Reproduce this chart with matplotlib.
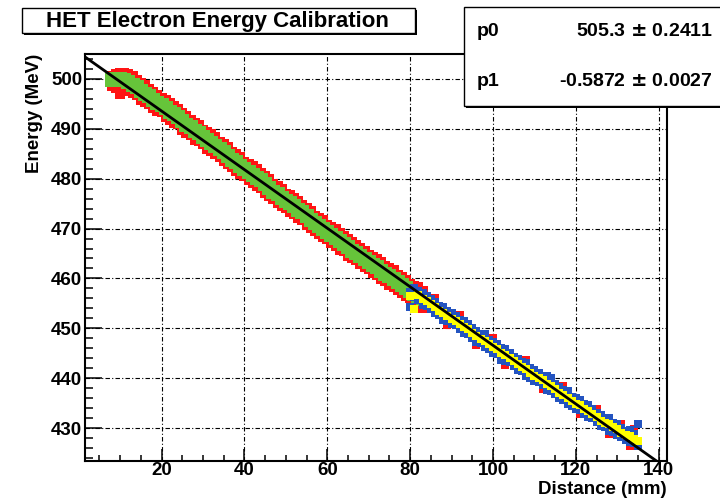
import matplotlib
matplotlib.use('Agg')
import numpy as np
import matplotlib.pyplot as plt
from matplotlib.patches import Rectangle

plt.rcParams['font.family'] = ['Liberation Sans', 'DejaVu Sans']
plt.rcParams['font.weight'] = 'bold'

# fit result
p0, p0_err = 505.3, 0.2411
p1, p1_err = -0.5872, 0.0027

# red points: upper / lower edge of the band, 8..83 mm
red_x = list(range(8, 84))
red_hi = [500.6, 501.0, 501.2, 501.2, 500.9, 500.5, 499.8, 499.1, 498.8, 498.0,
          497.4, 496.8, 496.2, 495.7, 495.1, 494.6, 493.9, 493.2, 492.6, 491.8,
          491.1, 490.8, 489.8, 489.3, 488.9, 488.3, 487.4, 487.0, 486.3, 485.3,
          484.9, 484.3, 483.3, 483.0, 482.5, 481.9, 481.2, 480.6, 479.9, 478.9,
          478.5, 477.9, 476.9, 476.7, 476.2, 475.5, 474.8, 474.2, 473.6, 472.6,
          472.2, 471.7, 470.7, 470.4, 469.9, 469.2, 468.5, 467.9, 467.4, 466.7,
          466.1, 465.5, 464.7, 464.3, 463.9, 463.2, 462.4, 462.0, 461.7, 460.7,
          460.3, 459.7, 458.9, 458.5, 458.2, 457.5]
red_lo = [498.6, 498.2, 497.0, 497.6, 497.9, 497.1, 496.8, 495.7, 495.4, 495.0,
          494.1, 493.5, 493.4, 492.4, 491.8, 491.2, 490.9, 489.8, 489.2, 488.8,
          487.8, 487.5, 487.0, 486.0, 485.6, 484.9, 484.4, 483.6, 482.9, 482.3,
          481.6, 481.0, 480.5, 479.7, 479.2, 478.5, 478.2, 477.2, 476.5, 475.9,
          475.2, 474.6, 474.1, 473.4, 472.9, 472.1, 471.8, 470.8, 470.2, 469.6,
          468.9, 468.4, 467.9, 467.1, 466.6, 465.8, 465.5, 464.5, 464.0, 463.7,
          462.8, 462.2, 461.9, 461.0, 460.6, 459.8, 459.4, 458.6, 458.3, 457.7,
          457.0, 456.4, 456.1, 455.2, 454.9, 454.1]
# sparse red points beyond 83 mm
red_tail_x = [86, 89, 92, 96, 100, 103, 108, 112, 117, 121, 125, 128, 131, 133, 134]
red_tail_e = [456.0, 450.7, 452.6, 446.6, 448.0, 442.7, 443.6, 437.8, 438.4, 432.8,
              433.9, 428.9, 430.9, 426.5, 429.8]

green_x = list(range(8, 84))
green_e = [499.8, 499.9, 499.9, 499.7, 499.3, 498.8, 498.3, 497.5, 497.0, 496.5,
           495.8, 495.1, 494.8, 494.1, 493.4, 492.9, 492.4, 491.6, 490.8, 490.3,
           489.5, 489.1, 488.4, 487.7, 487.2, 486.6, 485.9, 485.4, 484.5, 483.8,
           483.3, 482.6, 481.9, 481.4, 480.8, 480.2, 479.7, 479.0, 478.1, 477.4,
           476.9, 476.2, 475.5, 475.1, 474.5, 473.8, 473.3, 472.6, 471.8, 471.1,
           470.6, 470.0, 469.3, 468.8, 468.2, 467.5, 467.0, 466.3, 465.6, 465.2,
           464.5, 463.8, 463.3, 462.7, 462.2, 461.5, 460.9, 460.4, 459.9, 459.2,
           458.7, 458.0, 457.5, 456.9, 456.5, 455.8]

blue_x = list(range(80, 136))
blue_hi = [457.3, 458.1, 457.5, 457.1, 456.4, 455.8, 455.3, 454.5, 454.3, 453.4,
           453.0, 452.5, 451.7, 451.5, 450.8, 450.0, 449.5, 448.9, 448.8, 447.7,
           447.3, 446.8, 446.0, 445.8, 445.1, 444.3, 443.9, 443.3, 443.1, 442.0,
           441.6, 441.1, 440.5, 440.4, 440.0, 438.9, 438.2, 437.6, 437.4, 436.3,
           436.0, 435.6, 434.8, 434.6, 433.9, 433.1, 432.6, 432.1, 432.1, 431.1,
           430.9, 430.1, 429.5, 429.6, 428.9, 430.9]
blue_lo = [454.3, 456.2, 455.6, 454.7, 454.5, 453.9, 453.1, 452.6, 451.7, 451.5,
           450.8, 450.6, 449.8, 449.1, 448.9, 448.1, 447.3, 447.0, 446.2, 445.8,
           445.1, 444.9, 443.6, 443.4, 443.2, 442.4, 441.7, 441.4, 440.5, 440.1,
           439.4, 439.2, 438.6, 437.7, 437.5, 436.9, 436.0, 435.7, 434.8, 434.4,
           433.8, 433.7, 432.9, 432.2, 432.0, 431.2, 430.4, 430.2, 429.5, 429.2,
           428.7, 428.2, 427.6, 427.2, 427.0, 426.4]

yellow_x = list(range(80, 136))
yellow_e = [456.4, 453.8, 456.6, 455.9, 455.4, 454.9, 454.2, 453.5, 453.0, 452.5,
            451.9, 451.5, 450.8, 450.3, 449.8, 449.1, 448.4, 447.9, 447.5, 446.8,
            446.2, 445.8, 445.1, 444.6, 444.1, 443.4, 442.8, 442.3, 441.8, 441.1,
            440.5, 440.1, 439.6, 438.9, 438.4, 437.9, 437.1, 436.6, 436.1, 435.4,
            434.9, 434.6, 433.9, 433.4, 432.9, 432.2, 431.5, 431.1, 430.8, 430.2,
            429.8, 429.1, 428.6, 428.4, 427.9, 427.4]

xlim = (1.5, 142.0)
ylim = (423.4, 505.0)

fig = plt.figure(figsize=(7.2, 5.0), dpi=100)
ax = fig.add_axes([85/720, 39/500, 582/720, 407/500])

c_red = '#ff1414'
c_green = '#66c43a'
c_blue = '#2454c0'
c_yellow = '#ffff00'

ax.plot(red_x, red_hi, 's', ms=6.6, mew=0, color=c_red, zorder=2)
ax.plot(red_x, red_lo, 's', ms=6.6, mew=0, color=c_red, zorder=2)
ax.plot(red_tail_x, red_tail_e, 's', ms=5.4, mew=0, color=c_red, zorder=2)
ax.plot(green_x, green_e, 's', ms=10.0, mew=0, color=c_green, zorder=3)
ax.plot(blue_x, blue_hi, 's', ms=6.2, mew=0, color=c_blue, zorder=3)
ax.plot(blue_x, blue_lo, 's', ms=6.2, mew=0, color=c_blue, zorder=3)
ax.plot(yellow_x, yellow_e, 's', ms=5.4, mew=0, color=c_yellow, zorder=4)

fx = np.array(xlim)
ax.plot(fx, p0 + p1 * fx, color='black', lw=2.0, zorder=5, solid_capstyle='butt')

ax.set_xlim(*xlim)
ax.set_ylim(*ylim)
ax.set_xticks([20, 40, 60, 80, 100, 120, 140])
ax.set_xticks(np.arange(5, 142, 5), minor=True)
ax.set_yticks([430, 440, 450, 460, 470, 480, 490, 500])
ax.set_yticks(np.arange(424, 505, 2), minor=True)

ax.grid(True, which='major', color='black', lw=0.8, linestyle=(0, (4, 2, 1, 2)))
ax.set_axisbelow(True)

ax.tick_params(axis='x', which='major', direction='in', length=8.6, width=1.1,
               labelsize=13.5, pad=1, top=False)
ax.tick_params(axis='x', which='minor', direction='in', length=4.3, width=1.1, top=False)
ax.tick_params(axis='y', which='major', direction='in', length=12, width=1.1,
               labelsize=13.5, pad=2, right=False)
ax.tick_params(axis='y', which='minor', direction='in', length=6, width=1.1, right=False)
for lab in ax.get_xticklabels() + ax.get_yticklabels():
    lab.set_fontweight('bold')
for s in ax.spines.values():
    s.set_linewidth(1.5)

ax.set_xlabel('Distance (mm)', fontsize=13.5, fontweight='bold', ha='right')
ax.xaxis.set_label_coords(1.0, -0.049)
ax.set_ylabel('Energy (MeV)', fontsize=13.5, fontweight='bold', ha='right')
ax.yaxis.set_label_coords(-0.072, 1.0)

W, H = 720, 500

def box(x0, y0, x1, y1):
    # px coordinates from the top-left, with a small drop shadow
    fig.add_artist(Rectangle(((x0 + 2) / W, 1 - (y1 + 2) / H), (x1 - x0) / W, (y1 - y0) / H,
                             transform=fig.transFigure, facecolor='black',
                             edgecolor='none', zorder=10))
    fig.add_artist(Rectangle((x0 / W, 1 - y1 / H), (x1 - x0) / W, (y1 - y0) / H,
                             transform=fig.transFigure, facecolor='white',
                             edgecolor='black', lw=1.0, zorder=11))

box(22, 8, 415, 33)
fig.text(217 / W, 1 - 21 / H, 'HET Electron Energy Calibration', fontsize=16,
         fontweight='bold', ha='center', va='center', zorder=12)

box(464, 7, 725, 106)
fig.text(477 / W, 1 - 32 / H, 'p0', fontsize=14, fontweight='bold',
         ha='left', va='center', zorder=12)
fig.text(477 / W, 1 - 81 / H, 'p1', fontsize=14, fontweight='bold',
         ha='left', va='center', zorder=12)
fig.text(713 / W, 1 - 32 / H, f'{p0} $\\pm$ {p0_err}', fontsize=14, fontweight='bold',
         ha='right', va='center', zorder=12)
fig.text(713 / W, 1 - 81 / H, f'{p1} $\\pm$ {p1_err}', fontsize=14, fontweight='bold',
         ha='right', va='center', zorder=12)

fig.savefig('out.png', dpi=100)
